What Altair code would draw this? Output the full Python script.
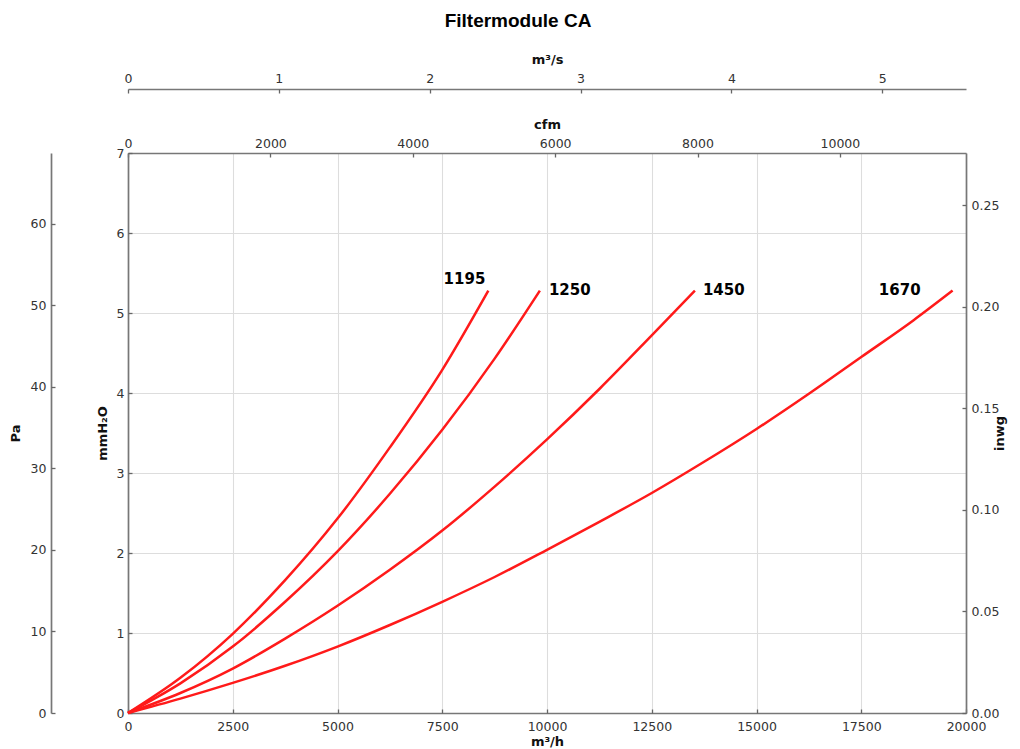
import altair as alt
import pandas as pd

# Pressure drop curves: airflow in m³/h against pressure in mmH2O, one per filter size
FANS = ["1195", "1250", "1450", "1670"]

Q_1195 = [0, 1250, 2500, 3750, 5000, 6250, 7500, 8600]
P_1195 = [0, 0.44, 0.99, 1.66, 2.43, 3.32, 4.29, 5.28]

Q_1250 = [0, 1250, 2500, 3750, 5000, 6250, 7500, 8750, 9830]
P_1250 = [0, 0.37, 0.83, 1.39, 2.02, 2.74, 3.54, 4.43, 5.28]

Q_1450 = [0, 1250, 2500, 3750, 5000, 6250, 7500, 8750, 10000, 11250, 12500, 13530]
P_1450 = [0, 0.25, 0.555, 0.93, 1.34, 1.79, 2.28, 2.83, 3.42, 4.05, 4.72, 5.28]

Q_1670 = [0, 1250, 2500, 3750, 5000, 6250, 7500, 8750, 10000, 11250, 12500, 13750,
          15000, 16250, 17500, 18750, 19680]
P_1670 = [0, 0.18, 0.376, 0.59, 0.83, 1.10, 1.39, 1.70, 2.04, 2.39, 2.75, 3.14,
          3.55, 3.99, 4.45, 4.91, 5.28]

# Axis tick values in each unit
Q_TICKS = [0, 2500, 5000, 7500, 10000, 12500, 15000, 17500, 20000]
MM_TICKS = [0, 1, 2, 3, 4, 5, 6, 7]
PA_TICKS = [0, 10, 20, 30, 40, 50, 60]
INWG_TICKS = [0.0, 0.05, 0.10, 0.15, 0.20, 0.25]
CFM_TICKS = [0, 2000, 4000, 6000, 8000, 10000]
M3S_TICKS = [0, 1, 2, 3, 4, 5]

# Unit conversions
Q_MAX = 20000
MM_MAX = 7
PA_PER_MM = 9.80665
MM_PER_INWG = 25.4
M3H_PER_CFM = 1.69901
M3H_PER_M3S = 3600

W, H = 838, 560

rows = []
for fan, qs, ps in [("1195", Q_1195, P_1195), ("1250", Q_1250, P_1250),
                    ("1450", Q_1450, P_1450), ("1670", Q_1670, P_1670)]:
    for q, p in zip(qs, ps):
        rows.append({"fan": fan, "Q": q, "mm": p})
df = pd.DataFrame(rows)
ends = df.groupby("fan", as_index=False).last()

# Range data used by the secondary unit axes
rng = pd.DataFrame({"Q": [0, Q_MAX], "mm": [0, MM_MAX]})

xs = alt.Scale(domain=[0, Q_MAX], nice=False, zero=False)
ys = alt.Scale(domain=[0, MM_MAX], nice=False, zero=False)

LABEL_AX = dict(ticks=False, tickSize=0, labelFlush=False, labelOverlap=False, labelBound=False)
TICK_AX = dict(labels=False, domain=False, grid=False, ticks=True, tickSize=4, title=None)

lines = alt.Chart(df).mark_line(color="#ff1a1a", strokeWidth=2.5, interpolate="monotone").encode(
    x=alt.X("Q:Q", scale=xs, axis=alt.Axis(orient="bottom", values=Q_TICKS, grid=True, format="d",
                                             labelPadding=7, title="m³/h", titlePadding=3,
                                             **LABEL_AX)),
    y=alt.Y("mm:Q", scale=ys, axis=alt.Axis(orient="left", values=MM_TICKS, grid=True, format="d",
                                              labelPadding=4, title="mmH₂O", titlePadding=7,
                                              **LABEL_AX)),
    detail="fan:N",
    order="Q:Q",
)

# Inward ticks for the m³/h and mmH2O axes
ticks_main = alt.Chart(rng).mark_point(opacity=0).encode(
    x=alt.X("Q:Q", scale=xs, axis=alt.Axis(orient="top", offset=-H, values=Q_TICKS, **TICK_AX)),
    y=alt.Y("mm:Q", scale=ys, axis=alt.Axis(orient="right", offset=-W, values=MM_TICKS, **TICK_AX)),
)

cfm_scale = alt.Scale(domain=[0, Q_MAX / M3H_PER_CFM], nice=False, zero=False)
pa_scale = alt.Scale(domain=[0, MM_MAX * PA_PER_MM], nice=False, zero=False)
inwg_scale = alt.Scale(domain=[0, MM_MAX / MM_PER_INWG], nice=False, zero=False)
m3s_scale = alt.Scale(domain=[0, Q_MAX / M3H_PER_M3S], nice=False, zero=False)

unit_base = alt.Chart(rng).transform_calculate(
    cfm=f"datum.Q / {M3H_PER_CFM}",
    pa=f"datum.mm * {PA_PER_MM}",
    inwg=f"datum.mm / {MM_PER_INWG}",
    m3s=f"datum.Q / {M3H_PER_M3S}",
).mark_point(opacity=0)

cfm_pa = unit_base.encode(
    x=alt.X("cfm:Q", scale=cfm_scale, axis=alt.Axis(orient="top", values=CFM_TICKS, labelPadding=3,
                                                      format="d", title="cfm", titlePadding=6,
                                                      **LABEL_AX)),
    y=alt.Y("pa:Q", scale=pa_scale, axis=alt.Axis(orient="left", offset=77, values=PA_TICKS,
                                                    format="d", labelPadding=5, title="Pa",
                                                    titlePadding=8, **LABEL_AX)),
)
cfm_pa_ticks = unit_base.encode(
    x=alt.X("cfm:Q", scale=cfm_scale, axis=alt.Axis(orient="bottom", offset=-H, values=CFM_TICKS, **TICK_AX)),
    y=alt.Y("pa:Q", scale=pa_scale, axis=alt.Axis(orient="right", offset=-W - 77, values=PA_TICKS, **TICK_AX)),
)

m3s_inwg = unit_base.encode(
    x=alt.X("m3s:Q", scale=m3s_scale, axis=alt.Axis(orient="top", offset=64, values=M3S_TICKS,
                                                      format="d", labelPadding=4, title="m³/s",
                                                      titlePadding=6, **LABEL_AX)),
    y=alt.Y("inwg:Q", scale=inwg_scale, axis=alt.Axis(orient="right", values=INWG_TICKS, format=".2f",
                                                        labelPadding=5, title="inwg", titleAngle=270,
                                                        titlePadding=8, **LABEL_AX)),
)
m3s_inwg_ticks = unit_base.encode(
    x=alt.X("m3s:Q", scale=m3s_scale, axis=alt.Axis(orient="bottom", offset=-H - 64, values=M3S_TICKS, **TICK_AX)),
    y=alt.Y("inwg:Q", scale=inwg_scale, axis=alt.Axis(orient="left", offset=-W, values=INWG_TICKS, **TICK_AX)),
)

# Curve end labels
label_style = {
    "1195": dict(align="right", dx=-3, dy=-12),
    "1250": dict(align="left", dx=9, dy=-1),
    "1450": dict(align="left", dx=8, dy=-1),
    "1670": dict(align="right", dx=-32, dy=-1),
}
labels = []
for fan in FANS:
    labels.append(
        alt.Chart(ends[ends["fan"] == fan]).mark_text(
            font="DejaVu Sans", fontSize=15, fontWeight="bold", color="black",
            baseline="middle", **label_style[fan]
        ).encode(
            x=alt.X("Q:Q", scale=xs, axis=None),
            y=alt.Y("mm:Q", scale=ys, axis=None),
            text="fan:N",
        )
    )

chart = alt.layer(
    lines, ticks_main, cfm_pa, cfm_pa_ticks, m3s_inwg, m3s_inwg_ticks, *labels
).resolve_scale(x="independent", y="independent").properties(
    width=W, height=H,
    padding={"left": 128, "top": 153, "right": 54, "bottom": 36},
    autosize=alt.AutoSizeParams(type="none"),
    title=alt.TitleParams("Filtermodule CA", font="Liberation Sans", fontSize=19,
                          fontWeight="bold", color="black", anchor="middle", dx=-29, offset=22),
).configure_view(strokeWidth=0).configure_axis(
    labelFont="DejaVu Sans", labelFontSize=12.5, labelColor="#333333",
    titleFont="DejaVu Sans", titleFontSize=13, titleFontWeight="bold", titleColor="#111111",
    domainColor="#777777", domainWidth=1.7, tickColor="#666666", tickWidth=1.3,
    gridColor="#dddddd", gridWidth=1.1,
)

chart.save("out.html", embed_options={"renderer": "svg", "actions": False})
